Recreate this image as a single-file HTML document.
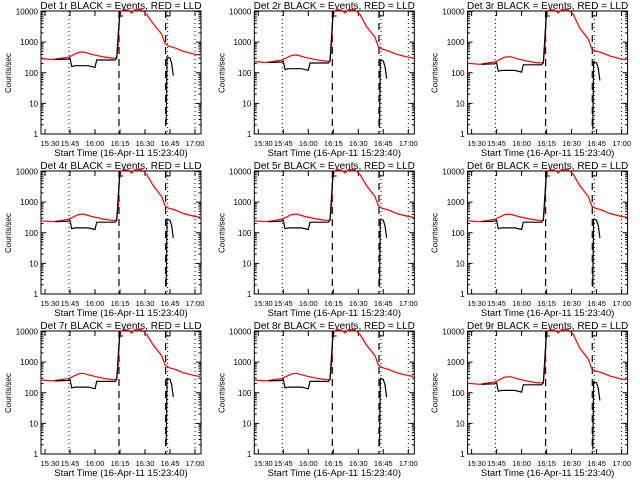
<!DOCTYPE html>
<html><head><meta charset="utf-8"><style>
html,body{margin:0;padding:0;background:#fff}
svg{display:block}
text{font-family:"Liberation Sans",sans-serif;fill:#000}
</style></head><body>
<svg id="c" width="640" height="480"></svg>
<script>
const detectors=["1r","2r","3r","4r","5r","6r","7r","8r","9r"];
const detScale=[1.0,0.8,0.7,0.85,0.85,0.85,0.9,0.9,0.7];
const yTicks=[1,10,100,1000,10000];
const yTickLabels=["1","10","100","1000","10000"];
const xTickMin=[30,45,60,75,90,105,120];
const xTickLabels=["15:30","15:45","16:00","16:15","16:30","16:45","17:00"];
const redT=[27.6,35,40,44,50,53,58,65,70,73,74,74.5,75.5,77,80,82,84,88,91,95,100,102,104,108,113,120,123];
const redV=[290,270,300,320,460,480,400,330,300,300,1000,5000,10000,12000,11000,9000,12000,12000,8000,4000,1800,900,750,650,500,400,380];
const blk1T=[36,44,45,46,48,56,60,61,72,73,74,75];
const blk1V=[270,280,300,160,170,170,150,260,260,300,2000,10000];
const blk2T=[102.7,103.2,105,106,107];
const blk2V=[2,330,300,200,80];
const dottedT=[44.4,103.6,120];
const dashedT=[74.4,102.4];
const NS="http://www.w3.org/2000/svg";
const svg=document.getElementById('c');
function mk(tag,attrs,parent){const e=document.createElementNS(NS,tag);for(const k in attrs)e.setAttribute(k,attrs[k]);parent.appendChild(e);return e;}
detectors.forEach((d,i)=>{
  const ox=(i%3)*213.3, oy=Math.floor(i/3)*160;
  const L=41,R=201,T=11,B=134;
  const xs=m=>ox+95+(m-60)*25/15;
  const ys=v=>{v=Math.max(1,Math.min(v,11500));return oy+B-(Math.log10(v))*(B-T-0.5)/4;};
  const g=mk('g',{},svg);
  
  
  const t=mk('text',{x:ox+121,y:oy+9,'text-anchor':'middle',style:'font-size:10px'},g);t.textContent='Det '+d+' BLACK = Events, RED = LLD';
  
  const box=mk('rect',{x:ox+L,y:oy+T,width:R-L,height:B-T,fill:'none',stroke:'#000','stroke-width':1},g);
  
  yTicks.forEach((v,j)=>{const y=ys(v);
    mk('line',{x1:ox+L,x2:ox+L+5,y1:y,y2:y,stroke:'#000'},g);mk('line',{x1:ox+R,x2:ox+R-5,y1:y,y2:y,stroke:'#000'},g);
    const tl=mk('text',{x:ox+L-3,y:y+3,'text-anchor':'end',style:'font-size:8px'},g);tl.textContent=yTickLabels[j];
    
    if(v<10000)for(let k=2;k<10;k++){const yy=ys(v*k);mk('line',{x1:ox+L,x2:ox+L+2.5,y1:yy,y2:yy,stroke:'#000'},g);mk('line',{x1:ox+R,x2:ox+R-2.5,y1:yy,y2:yy,stroke:'#000'},g);}
  });
  xTickMin.forEach((m,j)=>{const x=xs(m);
    mk('line',{x1:x,x2:x,y1:oy+B,y2:oy+B-5,stroke:'#000'},g);mk('line',{x1:x,x2:x,y1:oy+T,y2:oy+T+5,stroke:'#000'},g);
    const tl=mk('text',{x:x+(j==0?5:0),y:oy+146,'text-anchor':'middle',style:'font-size:7.5px'},g);tl.textContent=xTickLabels[j];
    
  });
  const xt=mk('text',{x:ox+121,y:oy+156,'text-anchor':'middle',style:'font-size:9.5px'},g);xt.textContent='Start Time (16-Apr-11 15:23:40)';
  
  const yt=mk('text',{x:0,y:0,'text-anchor':'middle',style:'font-size:8px',transform:`translate(${ox+11},${oy+73}) rotate(-90)`},g);yt.textContent='Counts/sec';
  
  dottedT.forEach(m=>{const l=mk('line',{x1:xs(m),x2:xs(m),y1:oy+T,y2:oy+B,stroke:'#000','stroke-dasharray':'1 3'},g);
    });
  dashedT.forEach(m=>{const l=mk('line',{x1:xs(m),x2:xs(m),y1:oy+T,y2:oy+B,stroke:'#000','stroke-dasharray':'7 5','stroke-width':1.2},g);
    });
  const sc=detScale[i];
  const pts=(T_,V_,s)=>T_.map((m,k)=>xs(m).toFixed(1)+','+ys(V_[k]*(V_[k]>=5000?1:s)).toFixed(1)).join(' ');
  const red=mk('polyline',{points:pts(redT,redV,sc),fill:'none',stroke:'#f00','stroke-width':1.2},g);
  
  const b1=mk('polyline',{points:pts(blk1T,blk1V,sc),fill:'none',stroke:'#000','stroke-width':1.2},g);
  
  const b2=mk('polyline',{points:pts(blk2T,blk2V,sc),fill:'none',stroke:'#000','stroke-width':1.2},g);
  
  mk('polyline',{points:`${xs(75)},${oy+T+2} ${xs(75)},${oy+T+5} ${xs(77)},${oy+T+5}`,fill:'none',stroke:'#000'},g);
  mk('polyline',{points:`${xs(102.6)},${oy+T} ${xs(102.6)},${oy+T+5} ${xs(105)},${oy+T+5}`,fill:'none',stroke:'#000'},g);
});
</script>
</body></html>
